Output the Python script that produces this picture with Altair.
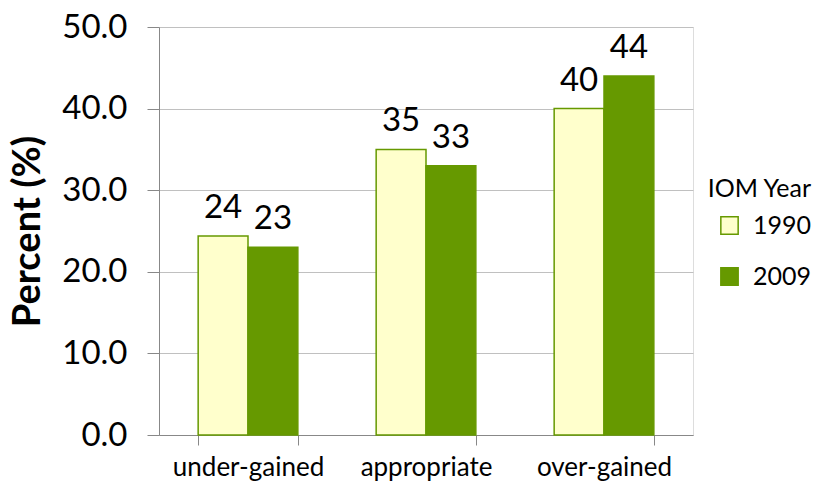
import altair as alt
import pandas as pd

categories = ["under-gained", "appropriate", "over-gained"]
years = ["1990", "2009"]
values_1990 = [24.4, 35.0, 40.0]
values_2009 = [23.0, 33.0, 44.0]

rows = []
for c, v in zip(categories, values_1990):
    rows.append({"cat": c, "year": "1990", "value": v})
for c, v in zip(categories, values_2009):
    rows.append({"cat": c, "year": "2009", "value": v})
df = pd.DataFrame(rows)

FONT = "Lato"
GREEN = "#669900"
PALE = "#FFFFCC"
GRID = "#C0C0C0"
AXIS = "#888888"

x = alt.X("cat:N", sort=categories, title=None,
          scale=alt.Scale(paddingInner=0.44, paddingOuter=0.22),
          axis=alt.Axis(labelAngle=0, labelFontSize=26, labelPadding=9,
                        labelColor="black", labelFont=FONT,
                        tickBand="extent", tickSize=10, tickColor=AXIS,
                        domainColor=AXIS, grid=False))
y = alt.Y("value:Q", title="Percent (%)",
          scale=alt.Scale(domain=[0, 50]),
          axis=alt.Axis(values=[0, 10, 20, 30, 40, 50], format=".1f",
                        labelFontSize=33, labelColor="black", labelFont=FONT,
                        labelPadding=20,
                        titleFontSize=38, titleFont=FONT, titleFontWeight="bold",
                        titleColor="black", titlePadding=14,
                        tickSize=12, tickColor=AXIS, domainColor=AXIS,
                        gridColor=GRID, grid=True))

base = alt.Chart(df).encode(
    x=x,
    xOffset=alt.XOffset("year:N", sort=years),
)

bars = base.mark_bar(strokeWidth=1.5).encode(
    y=y,
    color=alt.Color("year:N", sort=years,
                    scale=alt.Scale(domain=years, range=[PALE, GREEN]),
                    legend=alt.Legend(title="IOM Year", orient="none",
                                      legendX=548, legendY=150,
                                      titleFontSize=25, titleFont=FONT,
                                      titleFontWeight="normal", titleColor="black",
                                      titleAnchor="end",
                                      labelFontSize=25, labelFont=FONT, labelColor="black",
                                      labelOffset=11,
                                      symbolType="square", symbolSize=300,
                                      symbolStrokeColor=GREEN, symbolStrokeWidth=1.5,
                                      rowPadding=25, padding=0, titlePadding=11,
                                      offset=0)),
    stroke=alt.value(GREEN),
)

labels = base.mark_text(baseline="alphabetic", dy=-18, fontSize=33, font=FONT,
                        color="black").encode(
    y=alt.Y("value:Q"),
    text=alt.Text("value:Q", format=".0f"),
)

chart = alt.layer(bars, labels).properties(
    width=534, height=408,
    autosize=alt.AutoSizeParams(type="none"),
    padding={"left": 151, "top": 19, "right": 124, "bottom": 53},
).configure_view(stroke=None).configure(font=FONT)

chart.save("out.html", embed_options={"renderer": "svg", "actions": False})
